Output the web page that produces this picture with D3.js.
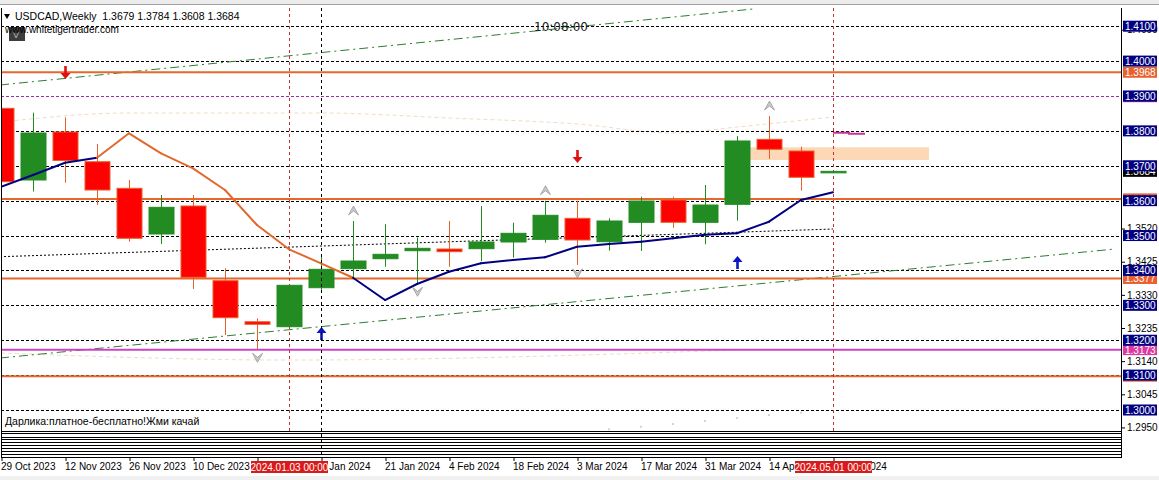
<!DOCTYPE html>
<meta charset="utf-8">
<style>
body { margin: 0; background: #fff; }
svg { display: block; font-family: 'Liberation Sans', Arial, sans-serif; }
.grid line { stroke: #000; stroke-width: 1; stroke-dasharray: 3,2; shape-rendering: crispEdges; }
.border { stroke: #000; stroke-width: 1; shape-rendering: crispEdges; }
.panel line { stroke: #000; stroke-width: 1.2; shape-rendering: crispEdges; }
.yaxis text, .xaxis text { font-family: 'Liberation Sans', Arial, sans-serif; font-size: 10px; fill: #000; }
.yaxis line, .xaxis line { stroke: #000; }
.box text { font-size: 10px; fill: #fff; }
</style>
<svg id="chart" width="1159" height="480"></svg>
<script src="https://d3js.org/d3.v7.min.js"></script>
<script>

// weekly bars, USDCAD
const barDates = ["29 Oct 2023","5 Nov 2023","12 Nov 2023","19 Nov 2023","26 Nov 2023","3 Dec 2023","10 Dec 2023",
  "17 Dec 2023","24 Dec 2023","31 Dec 2023","7 Jan 2024","14 Jan 2024","21 Jan 2024","28 Jan 2024","4 Feb 2024",
  "11 Feb 2024","18 Feb 2024","25 Feb 2024","3 Mar 2024","10 Mar 2024","17 Mar 2024","24 Mar 2024","31 Mar 2024",
  "7 Apr 2024","14 Apr 2024","21 Apr 2024","28 Apr 2024"];
const opens  = [1.38647,1.36592,1.37968,1.37116,1.36354,1.35044,1.35847,1.33706,1.32530,1.32387,1.33505,1.34050,1.34336,1.34565,1.34614,1.34623,1.34815,1.34892,1.35494,1.34823,1.35379,1.36019,1.35379,1.35895,1.37758,1.37423,1.3680];
const highs  = [1.3875,1.38521,1.38389,1.37624,1.36592,1.36162,1.36162,1.34061,1.32628,1.33580,1.34442,1.35417,1.35325,1.34949,1.35417,1.35847,1.35368,1.35999,1.35999,1.35494,1.36113,1.36113,1.36449,1.37853,1.38426,1.37546,1.3684];
const lows   = [1.3645,1.36262,1.36514,1.35875,1.34823,1.34757,1.33468,1.32149,1.31739,1.32380,1.33390,1.33774,1.34107,1.33631,1.34107,1.34270,1.34365,1.34795,1.34156,1.34565,1.34557,1.35225,1.34749,1.35425,1.37194,1.36285,1.3680];
const closes = [1.36543,1.37939,1.37151,1.36305,1.34921,1.35809,1.33803,1.32645,1.32456,1.33574,1.34032,1.34270,1.34462,1.34634,1.34537,1.34815,1.35064,1.35580,1.34872,1.35417,1.35990,1.35379,1.35875,1.37710,1.37472,1.36669,1.3684];

// trend MA and its colour per segment (1 = falling / orange)
const maValues = [1.36400,1.36735,1.37088,1.37231,1.37930,1.37357,1.36927,1.36305,1.35302,1.34606,1.34204,1.33791,1.33152,1.33611,1.33963,1.34204,1.34299,1.34376,1.34680,1.34757,1.34823,1.34921,1.35024,1.35064,1.35397,1.36019,1.36239];
const maDown = [0,0,0,1,1,1,1,1,1,1,1,0,0,0,0,0,0,0,0,0,0,0,0,0,0,0];

const orangeLevels = [1.3968, 1.3605, 1.3377, 1.3097];
const magentaLevels = [1.3173];
const purpleLevels = [1.3900];
const gridPrices = [1.41,1.40,1.38,1.37,1.36,1.35,1.34,1.33,1.32,1.31,1.30];
const axisTicks = [1.2950,1.3045,1.3140,1.3235,1.3330,1.3425,1.3520,1.4090];
const navyBoxes = [1.41,1.40,1.39,1.38,1.37,1.36,1.35,1.34,1.33,1.32,1.31,1.30];
const orangeBoxes = [1.3968, 1.3605, 1.3377, 1.3097];
const dateTicks = [0,2,4,6,8,10,12,14,16,18,20,22,24,26];

const upFractals = [11, 17, 24];
const downFractals = [8, 13, 18];
const sellArrows = [[2, 1.39487], [18, 1.37079]];
const buyArrows = [[10, 1.32378], [23, 1.34414]];

const channelUpper = [[-0.03, 1.39315], [23.5, 1.41493]];
const channelLower = [[-0.03, 1.31490], [34.81, 1.34614]];
const midLine = [[-0.03, 1.34393], [26, 1.35187]];
const upperBand = [[0,1.38254],[4,1.38512],[10,1.38512],[14,1.38369],[18,1.38197],[21,1.37939],[23,1.38111],[26,1.38398]];
const lowerBand = [[0,1.31633],[9,1.31432],[23,1.31719]];
const targetLine = [[26,1.37947],[26.5,1.37947],[26.5,1.37919],[27,1.37919]];
const zoneBars = [23.4, 29];
const zonePrices = [1.37529, 1.37165];
const dotBars = [19,20,21,22,23,24,25];
const dotPrices = [1.29446,1.29521,1.29598,1.29684,1.29770,1.29856,1.29922];

const redVLines = [9, 26];
const redVLabels = ["2024.01.03 00:00", "2024.05.01 00:00"];
const blackVLines = [10];

const header = "USDCAD,Weekly  1.3679 1.3784 1.3608 1.3684";

const svg = d3.select("#chart");
const pl = 1, pr = 1121, pt = 8, pb = 431;

const x = d3.scaleLinear().domain([0, 35]).range([1, 1121]);
const y = d3.scaleLinear().domain([1.293981, 1.415216]).range([pb, pt]);

// window chrome
svg.append("rect").attr("x", 0).attr("y", 0).attr("width", 1159).attr("height", 4).attr("fill", "#ececec");
svg.append("line").attr("x1", 0).attr("x2", 1159).attr("y1", 4.5).attr("y2", 4.5).attr("stroke", "#a0a0a0");
svg.append("rect").attr("x", 0).attr("y", 476).attr("width", 1159).attr("height", 4).attr("fill", "#f0f0f0");

svg.append("clipPath").attr("id", "plot")
  .append("rect").attr("x", pl).attr("y", pt).attr("width", pr - pl).attr("height", pb - pt);
const plot = svg.append("g").attr("clip-path", "url(#plot)");

// zone
plot.append("rect")
  .attr("x", x(zoneBars[0])).attr("width", x(zoneBars[1]) - x(zoneBars[0]))
  .attr("y", y(zonePrices[0])).attr("height", y(zonePrices[1]) - y(zonePrices[0]))
  .attr("fill", "#fcd8b6");

// faint bands
const pline = d3.line().x(d => x(d[0])).y(d => y(d[1]));
const bandLine = d3.line().x(d => x(d[0])).y(d => y(d[1])).curve(d3.curveMonotoneX);
plot.append("path").attr("d", bandLine(upperBand)).attr("fill", "none")
  .attr("stroke", "#f1dcc8").attr("stroke-dasharray", "4,3");
plot.append("path").attr("d", bandLine(lowerBand)).attr("fill", "none")
  .attr("stroke", "#f1dcc8").attr("stroke-dasharray", "4,3");

// grid
plot.append("g").attr("class", "grid").selectAll("line").data(gridPrices).join("line")
  .attr("x1", pl).attr("x2", pr)
  .attr("y1", d => Math.round(y(d)) + 0.5).attr("y2", d => Math.round(y(d)) + 0.5);

plot.selectAll(".lvl-p").data(purpleLevels).join("line")
  .attr("x1", pl).attr("x2", pr)
  .attr("y1", d => Math.round(y(d)) + 0.5).attr("y2", d => Math.round(y(d)) + 0.5)
  .attr("stroke", "#9a2fa8").attr("stroke-dasharray", "3,2");

// sloped lines
plot.append("path").attr("d", pline(channelUpper)).attr("stroke", "#2e7d32").attr("fill", "none")
  .attr("stroke-dasharray", "9,4,2,4");
plot.append("path").attr("d", pline(channelLower)).attr("stroke", "#2e7d32").attr("fill", "none")
  .attr("stroke-dasharray", "9,4,2,4");
plot.append("path").attr("d", pline(midLine)).attr("stroke", "#000").attr("fill", "none")
  .attr("stroke-dasharray", "2,2");

// horizontal levels
plot.selectAll(".lvl-o").data(orangeLevels).join("line")
  .attr("x1", pl).attr("x2", pr)
  .attr("y1", d => y(d)).attr("y2", d => y(d))
  .attr("stroke", "#e5682a").attr("stroke-width", 2);
plot.selectAll(".lvl-m").data(magentaLevels).join("line")
  .attr("x1", pl).attr("x2", pr)
  .attr("y1", d => y(d)).attr("y2", d => y(d))
  .attr("stroke", "#cc44c4").attr("stroke-width", 2);

// vertical markers
plot.selectAll(".vr").data(redVLines).join("line")
  .attr("x1", d => x(d) + 0.5).attr("x2", d => x(d) + 0.5).attr("y1", pt).attr("y2", pb)
  .attr("stroke", "#c83030").attr("stroke-dasharray", "3,3");
svg.selectAll(".vb").data(blackVLines).join("line")
  .attr("x1", d => x(d) + 0.5).attr("x2", d => x(d) + 0.5).attr("y1", pt).attr("y2", 458)
  .attr("stroke", "#000").attr("stroke-dasharray", "3,3");

// gray dots
plot.selectAll(".dot").data(dotBars).join("rect")
  .attr("x", d => x(d) - 1).attr("y", (d, i) => y(dotPrices[i]) - 1)
  .attr("width", 2).attr("height", 2).attr("fill", "#d4d4d4");

// candles
const bars = d3.range(barDates.length);
const cg = plot.append("g");
bars.forEach(function(i) {
  const up = closes[i] >= opens[i];
  const col = up ? "#228b22" : "#e8602c";
  const cx = x(i) + 0.5;
  cg.append("line").attr("x1", cx).attr("x2", cx)
    .attr("y1", y(highs[i])).attr("y2", y(lows[i])).attr("stroke", col);
  const y0 = y(Math.max(opens[i], closes[i])), y1 = y(Math.min(opens[i], closes[i]));
  cg.append("rect")
    .attr("x", x(i) - 12).attr("width", 25)
    .attr("y", y0).attr("height", Math.max(1.5, y1 - y0))
    .attr("fill", up ? "#228b22" : "#ff0000")
    .attr("stroke", col).attr("stroke-width", 1);
});

// MA line coloured by direction
d3.range(maValues.length - 1).forEach(function(i) {
  plot.append("line")
    .attr("x1", x(i)).attr("y1", y(maValues[i]))
    .attr("x2", x(i + 1)).attr("y2", y(maValues[i + 1]))
    .attr("stroke", maDown[i] ? "#e06a2e" : "#000080")
    .attr("stroke-width", 2).attr("stroke-linecap", "round");
});

// target marker
plot.append("path").attr("d", pline(targetLine)).attr("fill", "none")
  .attr("stroke", "#cc3399").attr("stroke-width", 2);

// fractals
function chevron(g, cx, cy, dir) {
  g.append("path")
    .attr("d", "M-5," + (4 * dir) + "L0," + (-5 * dir) + "L5," + (4 * dir) + "L0,0Z")
    .attr("transform", "translate(" + cx + "," + cy + ")")
    .attr("fill", "#c8c8c8").attr("stroke", "#9a9a9a").attr("stroke-width", 0.8);
}
upFractals.forEach(i => chevron(plot, x(i) + 0.5, y(highs[i]) - 10, 1));
downFractals.forEach(i => chevron(plot, x(i) + 0.5, y(lows[i]) + 8, -1));

// signal arrows (tip at price)
function arrow(g, cx, tip, dir, col) {
  // dir = 1 points down, -1 points up
  g.append("path")
    .attr("d", "M0,0 L-5," + (-6 * dir) + " L-1.3," + (-6 * dir) + " L-1.3," + (-13 * dir) +
      " L1.3," + (-13 * dir) + " L1.3," + (-6 * dir) + " L5," + (-6 * dir) + "Z")
    .attr("transform", "translate(" + cx + "," + tip + ")")
    .attr("fill", col);
}
sellArrows.forEach(d => arrow(plot, x(d[0]) + 0.5, y(d[1]), 1, "#e01010"));
buyArrows.forEach(d => arrow(plot, x(d[0]) + 0.5, y(d[1]), -1, "#0a14c8"));

// borders + sub windows
svg.append("line").attr("class", "border").attr("x1", pl + 0.5).attr("x2", pl + 0.5).attr("y1", pt).attr("y2", 457);
svg.append("line").attr("class", "border").attr("x1", pr + 0.5).attr("x2", pr + 0.5).attr("y1", pt).attr("y2", 457);
svg.append("g").attr("class", "panel").selectAll("line")
  .data([431, 433, 437, 439, 442, 445, 448, 451, 454, 457]).join("line")
  .attr("x1", pl).attr("x2", pr + 1).attr("y1", d => d + 0.5).attr("y2", d => d + 0.5);

// price axis
svg.append("g").attr("class", "yaxis")
  .attr("transform", "translate(" + (pr + 1) + ",0)")
  .call(d3.axisRight(y).tickValues(axisTicks).tickSize(3).tickPadding(2).tickFormat(d3.format(".4f")))
  .call(g => g.select(".domain").remove())
  .call(g => g.attr("font-family", null).attr("font-size", null));

function priceBox(g, p, fill, label) {
  const b = g.append("g").attr("class", "box");
  b.append("rect").attr("x", pr + 2).attr("y", y(p) - 5.5).attr("width", 34).attr("height", 11).attr("fill", fill);
  b.append("text").attr("x", pr + 4).attr("y", y(p) + 4).text(label);
}
orangeBoxes.forEach(p => priceBox(svg, p, "#e8602c", d3.format(".4f")(p)));
priceBox(svg, 1.3898, "#9a2fa8", "");
priceBox(svg, 1.3173, "#dc3aa0", "1.3173");
priceBox(svg, 1.3684, "#000", "1.3684");
navyBoxes.forEach(p => priceBox(svg, p, "#000080", d3.format(".4f")(p)));

// time axis
svg.append("g").attr("class", "xaxis")
  .attr("transform", "translate(0.5,457)")
  .call(d3.axisBottom(x).tickValues(dateTicks).tickSize(4).tickPadding(2).tickFormat(i => barDates[i]))
  .call(g => g.select(".domain").remove())
  .call(g => g.attr("font-family", null).attr("font-size", null))
  .call(g => g.selectAll("text").attr("text-anchor", "start").attr("dx", -1));

redVLines.forEach(function(i, k) {
  const g = svg.append("g");
  g.append("rect").attr("x", x(i) - 38).attr("y", 461).attr("width", 77).attr("height", 12).attr("fill", "#d91a1a");
  g.append("text").attr("x", x(i) + 0.5).attr("y", 471).attr("text-anchor", "middle")
    .attr("font-size", "10px").attr("fill", "#fff").text(redVLabels[k]);
});

// texts
svg.append("path").attr("d", "M4,14 L10,14 L7,19 Z").attr("fill", "#000");
svg.append("text").attr("x", 15).attr("y", 20).attr("font-size", "10.5px").style("white-space", "pre").text(header);
svg.append("rect").attr("x", 9).attr("y", 27).attr("width", 16).attr("height", 14).attr("fill", "#3c3c3c");
svg.append("text").attr("x", 13).attr("y", 38).attr("font-size", "9px").attr("fill", "#bbb").text("V");
svg.append("text").attr("x", 5).attr("y", 33).attr("font-size", "10px").text("www.whitetigertrader.com");
svg.append("text").attr("x", 561).attr("y", 31).attr("text-anchor", "middle")
  .attr("font-family", "'DejaVu Sans', sans-serif").attr("font-size", "12px").attr("fill", "#222").text("10:08:00");
svg.append("text").attr("x", 5).attr("y", 425).attr("font-size", "10.5px").text("Дарлика:платное-бесплатно!Жми качай");

</script>
